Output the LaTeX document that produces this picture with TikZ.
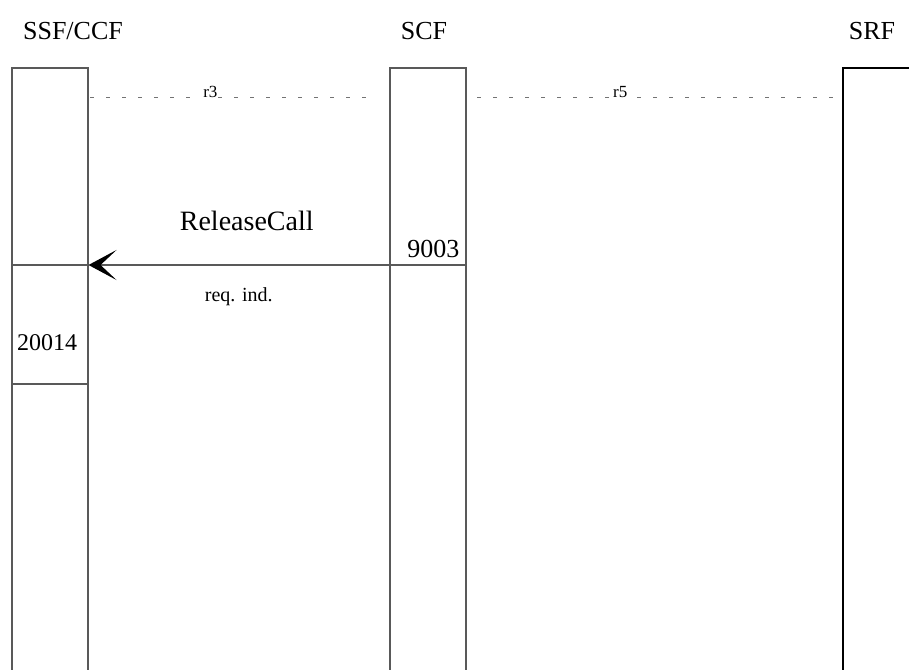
\documentclass[tikz,border=0pt]{standalone}
\usepackage{fontspec}
\setmainfont{Liberation Serif}
\usetikzlibrary{arrows.meta}

\tikzset{
  entity/.style={draw=black!65, line width=1.5pt, minimum width=76pt, minimum height=620pt,
                 anchor=north west, inner sep=0pt},
  head/.style={font=\fontsize{26}{26}\selectfont, anchor=base},
  iface/.style={draw=black!55, line width=0.8pt, dash pattern=on 4pt off 12pt},
  ilabel/.style={font=\fontsize{17}{17}\selectfont, anchor=base, fill=white, inner sep=1pt},
  msg/.style={draw=black!65, line width=1.5pt, -{Stealth[length=28pt, width=30pt, inset=16pt, black]}},
  fsm/.style={font=\fontsize{#1}{#1}\selectfont, anchor=base}
}

\begin{document}
\begin{tikzpicture}[x=1pt, y=-1pt]
  \useasboundingbox (0,0) rectangle (909,669);
  \clip (0,0) rectangle (909,669);

  % functional entities
  \node[head] (tssf) at (73,40) {SSF/CCF};
  \node[head] (tscf) at (424,40) {SCF};
  \node[head] (tsrf) at (872,40) {SRF};
  \node[entity] (ssf) at (11,67) {};
  \node[entity] (scf) at (389,67) {};
  \node[entity, draw=black] (srf) at (842,67) {};

  % interfaces
  \coordinate (r3a) at (90,97);
  \coordinate (r3b) at (370,97);
  \coordinate (r5a) at (477,97);
  \coordinate (r5b) at (835,97);
  \draw[iface] (r3a) -- (r3b) node[ilabel, pos=0.43] {r3};
  \draw[iface] (r5a) -- (r5b) node[ilabel, pos=0.40] {r5};

  % ReleaseCall
  \coordinate (rel) at (0,265);
  \draw[draw=black!65, line width=1.5pt] (scf.west |- rel) -- (scf.east |- rel);
  \draw[draw=black!65, line width=1.5pt] (ssf.west |- rel) -- (ssf.east |- rel);
  \draw[msg] (scf.west |- rel) -- (ssf.east |- rel)
     node[fsm=28, midway, xshift=8pt, yshift=35pt] {ReleaseCall}
     node[fsm=20, midway, yshift=-36pt] {req. ind.};
  \node[fsm=26, anchor=base east] (n9003) at (463,257) {9003};

  \coordinate (end) at (0,384);
  \node[fsm=24] (n20014) at (47,350) {20014};
  \draw[draw=black!65, line width=1.5pt] (ssf.west |- end) -- (ssf.east |- end);
\end{tikzpicture}
\end{document}
